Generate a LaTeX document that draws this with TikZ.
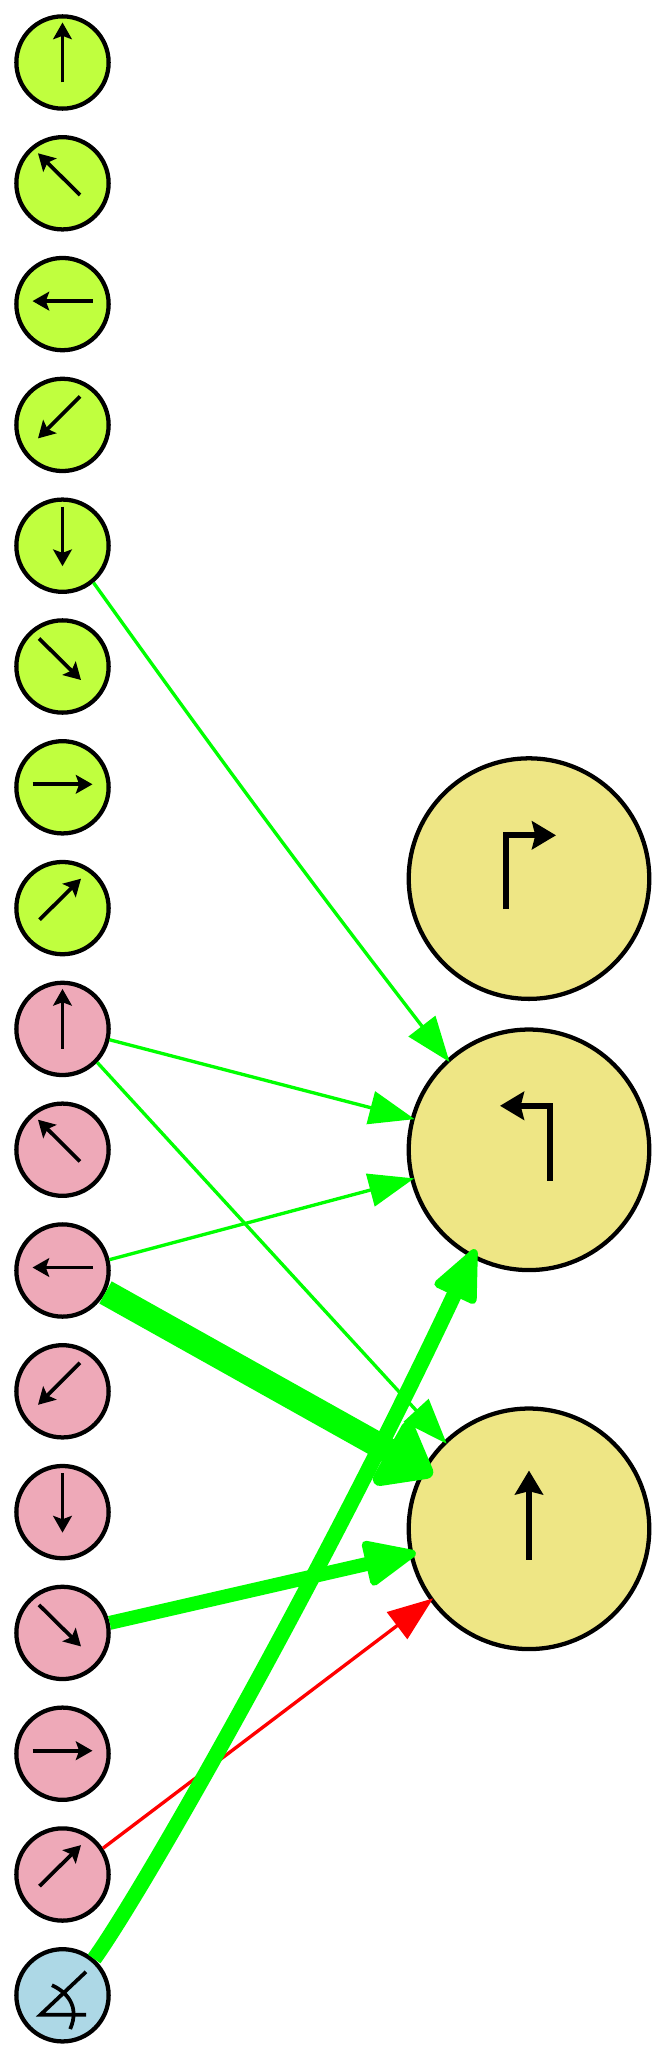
\documentclass[tikz,border=0pt]{standalone}
\usetikzlibrary{arrows.meta}
\definecolor{limefill}{HTML}{C0FF3E}
\definecolor{pinkfill}{HTML}{EEA9B8}
\definecolor{bluefill}{HTML}{ADD8E6}
\definecolor{khakifill}{HTML}{EEE685}
\definecolor{edgegreen}{HTML}{00FF00}
\tikzstyle{lines}=[%
	x = 0.75pt,
	y = -0.75pt,
	smallcell/.style = {circle, draw, line width = 3.2pt, inner sep = 0pt, minimum size = 69.2pt},
	bigcell/.style = {circle, draw, line width = 3.2pt, inner sep = 0pt, minimum size = 180.4pt, fill = khakifill},
	glyph/.style = {line width = 2.8pt, -{Stealth[length = 12.5pt, width = 14pt, inset = 2.5pt]}},
	bigglyph/.style = {line width = 4.6pt, -{Stealth[length = 18pt, width = 21pt, inset = 2.5pt]}},
	thinedge/.style = {line width = 2.5pt, shorten >= -3pt, -{Triangle[length = 34pt, width = 25pt]}},
	thickedge/.style n args = {4}{edgegreen, line width = ##1, -{Triangle[length = ##2, width = ##3, line width = ##4, round]}}
]

\begin{document}
\begin{tikzpicture}[lines]
	\useasboundingbox (0,0) rectangle (667,2058);

	% Small cells
	\foreach \i in {0,...,7} {
		\node[smallcell, fill=limefill] (n\i) at (62.5,{62.5+120.8*\i}) {};
	}
	\foreach \i in {8,...,15} {
		\node[smallcell, fill=pinkfill] (n\i) at (62.5,{62.5+120.8*\i}) {};
	}
	\node[smallcell, fill=bluefill] (n16) at (62.5,{62.5+120.8*16}) {};

	% Big cells
	\node[bigcell] (b1) at (529,878.6) {};
	\node[bigcell] (b2) at (529,1149.8) {};
	\node[bigcell] (b3) at (529,1528.8) {};

	% Glyphs
	\foreach \i/\fx/\fy/\tx/\ty in {0/0/20/0/-40, 1/17.5/11.7/-24.5/-30, 2/30/-3/-30/-3, 3/17.5/-28.5/-24.5/13.5, 4/0/-39/0/20.5, 5/-23.5/-28/18.5/13.5, 6/-30/-3/30/-3, 7/-23/11.6/18.5/-29.4, 8/0/20/0/-40, 9/17.5/11.7/-24.5/-30, 10/30/-3/-30/-3, 11/17.5/-28.5/-24.5/13.5, 12/0/-39/0/20.5, 13/-23.5/-28/18.5/13.5, 14/-30/-3/30/-3, 15/-23/11.6/18.5/-29.4} {
		\begin{scope}[shift={(n\i.center)}]
			\draw[glyph] (\fx,\fy) -- (\tx,\ty);
		\end{scope}
	}
	\begin{scope}[shift={(n16.center)}]
		\draw[line width=2.8pt] (23.5,-23.5) -- (-22,19.4) -- (23.5,19.4);
		\draw[line width=2.8pt] (-10.6,-10.1) .. controls (3,-4) and (18,10) .. (7.7,33.7);
	\end{scope}
	\begin{scope}[shift={(b1.center)}]
		\draw[bigglyph] (-23,30.4) -- (-23,-43.3) -- (27,-43.3);
	\end{scope}
	\begin{scope}[shift={(b2.center)}]
		\draw[bigglyph] (21,31) -- (21,-44) -- (-29,-44);
	\end{scope}
	\begin{scope}[shift={(b3.center)}]
		\draw[bigglyph] (0,31) -- (0,-58.3);
	\end{scope}

	% Edges
	\draw[thinedge, edgegreen] (n4.-50.7) to[bend right=1] (b2.132);
	\draw[thinedge, edgegreen] (n8.-13.8) -- (b2.165.9);
	\draw[thinedge, edgegreen] (n8.-44) -- (b3.134);
	\draw[thinedge, edgegreen] (n10.13.6) -- (b2.194.5);
	\draw[thinedge, red] (n15.33.9) -- (b3.216);
	\draw[thickedge={19pt}{42pt}{62pt}{11pt}, shorten >=-9pt] (n10.-27.7) -- (b3.151);
	\draw[thickedge={10.5pt}{43pt}{36pt}{6pt}, shorten >=-5pt] (n13.12.8) -- (b3.192.6);
	\draw[thickedge={11.5pt}{43pt}{36pt}{6pt}, shorten >=-7pt] (n16.49.7) .. controls +(54,-76) and +(-144,306) .. (b2.242);

\end{tikzpicture}
\end{document}
